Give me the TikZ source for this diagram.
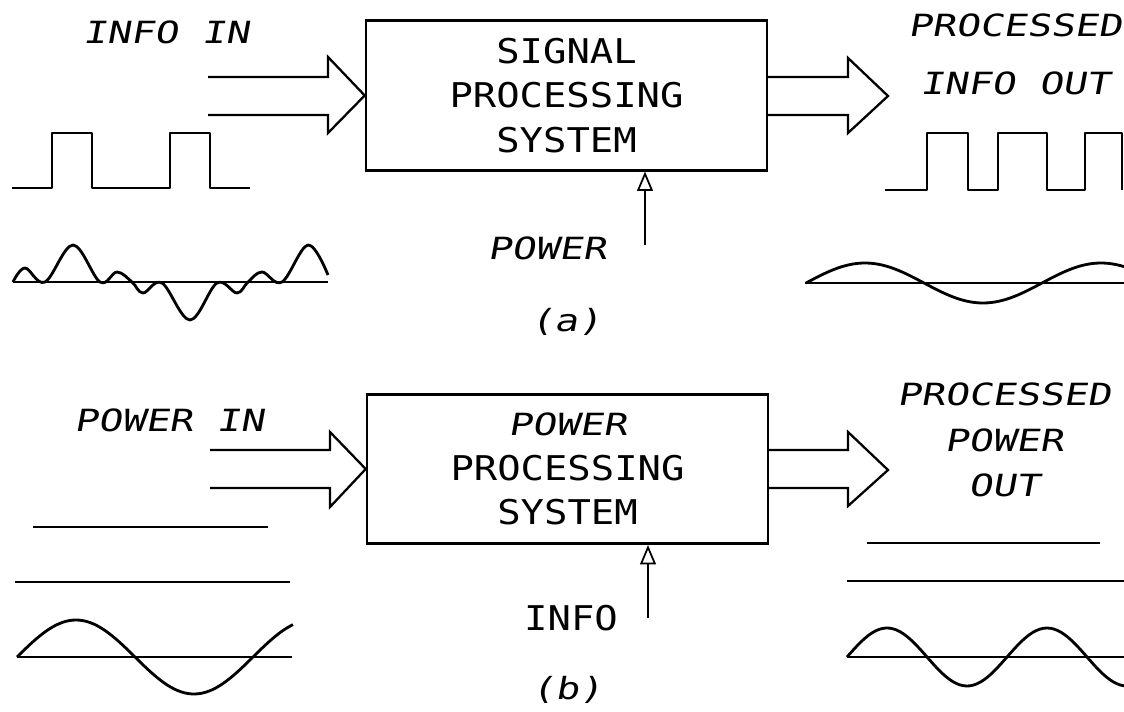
\documentclass[tikz,border=0pt]{standalone}
\usepackage{fontspec}
\newfontfamily\plotfont[FakeStretch=1.14]{DejaVu Sans Mono}
\newfontfamily\plotslant[FakeStretch=1.29,FakeSlant=0.18]{DejaVu Sans Mono}
\usetikzlibrary{arrows.meta, positioning}

\begin{document}
\begin{tikzpicture}[x=0.02cm, y=-0.02cm,
  sysbox/.style={draw, line width=1.5pt, minimum width=8.02cm, minimum height=2.99cm, align=center, inner sep=0pt},
  bigtxt/.style={font=\plotfont\fontsize{19.4}{25.5}\selectfont},
  lbl/.style={font=\plotslant\fontsize{17.4}{26}\selectfont, align=center, inner sep=0pt},
  blockarr/.style={line width=1.3pt, line join=miter},
  thinarr/.style={line width=1pt, -{Triangle[open, length=11pt, width=9pt]}},
  wave/.style={line width=1.6pt, line join=round},
  axis/.style={line width=0.6pt}
]
\useasboundingbox (0,0) rectangle (1124,712);

% ----- (a) signal processing -----
\node[sysbox, bigtxt] (sigbox) at (566.5,95.5) {SIGNAL\\PROCESSING\\SYSTEM};
\node[lbl] (infoin)  at (166,32) {INFO IN};
\node[lbl, font=\plotslant\fontsize{17.4}{33}\selectfont] (infoout) at (1015,54) {PROCESSED\\INFO OUT};
\node[lbl] (powerlbl) at (547,248) {POWER};
\node[lbl] (capa) at (566,322) {(a)};
\coordinate (pwtail) at (645,245);

\draw[blockarr] (208,77) -- (328,77) -- (328,57) -- (sigbox.west) -- (328,133) -- (328,115) -- (208,115);
\draw[blockarr] (767,77) -- (848,77) -- (848,58) -- (888,96) -- (848,133) -- (848,115) -- (767,115);
\draw[thinarr] (pwtail) -- (pwtail |- sigbox.south);

% pulses
\draw[wave, line width=1.3pt] (12,188) -- (52,188) -- (52,133) -- (92,133) -- (92,188) -- (170,188) -- (170,133) -- (210,133) -- (210,188) -- (250,188);
\draw[wave, line width=1.3pt] (885,190) -- (927,190) -- (927,133) -- (968,133) -- (968,190) -- (998,190) -- (998,133) -- (1047,133) -- (1047,190) -- (1085,190) -- (1085,133) -- (1122,133) -- (1122,190);

% noisy input / clean output
\draw[axis] (13,282) -- (328,282);
\draw[wave] plot[smooth, tension=0.6] coordinates {(13,282) (25,268) (45,282) (73,245) (100,282) (117,272) (132,282) (143,293) (162,283) (190,320) (217,283) (237,293) (248,282) (262,272) (282,282) (308,245) (328,275)};
\draw[axis] (805,283) -- (1124,283);
\draw[wave] plot[domain=806:1124, samples=80] (\x, {283-20*sin((\x-806)*1.5254)});

% ----- (b) power processing -----
\node[sysbox, bigtxt] (pwrbox) at (567.5,469) {{\plotslant\fontsize{17.4}{25.5}\selectfont POWER}\\PROCESSING\\SYSTEM};
\node[lbl] (powerin) at (169,420) {POWER IN};
\node[lbl] (powerout) at (1004,440) {PROCESSED\\POWER\\OUT};
\node[bigtxt] (infolbl) at (571,618) {INFO};
\node[lbl] (capb) at (567,690) {(b)};
\coordinate (inftail) at (648,618);

\draw[blockarr] (210,450) -- (330,450) -- (330,432) -- (pwrbox.west) -- (330,507) -- (330,488) -- (210,488);
\draw[blockarr] (768,450) -- (848,450) -- (848,432) -- (888,470) -- (848,506) -- (848,488) -- (768,488);
\draw[thinarr] (inftail) -- (inftail |- pwrbox.south);

% dc and ac waveforms
\draw[wave] (33,527) -- (268,527);
\draw[axis] (15,582) -- (290,582);
\draw[axis] (17,657) -- (292,657);
\draw[wave] plot[domain=17:293, samples=80] (\x, {657-37*sin((\x-17)*1.5254)});

\draw[wave] (867,543) -- (1100,543);
\draw[axis] (847,581) -- (1124,581);
\draw[axis] (847,657) -- (1124,657);
\draw[wave] plot[domain=847:1124, samples=80] (\x, {657-29*sin((\x-847)*2.25)});

\end{tikzpicture}
\end{document}
